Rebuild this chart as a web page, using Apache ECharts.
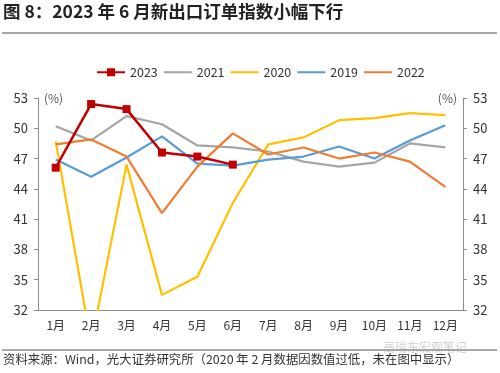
<!DOCTYPE html>
<html><head><meta charset="utf-8">
<script src="https://cdn.jsdelivr.net/npm/echarts@6/dist/echarts.min.js"></script>
<style>html,body{margin:0;padding:0;background:#fff}#c{width:500px;height:373px}</style>
</head><body><div id="c"></div>
<script>
const months = ['1月','2月','3月','4月','5月','6月','7月','8月','9月','10月','11月','12月'];
const yTicks = [32,35,38,41,44,47,50,53];
const s2023 = [46.1,52.4,51.9,47.6,47.2,46.4];
const s2021 = [50.2,48.8,51.2,50.4,48.3,48.1,47.7,46.7,46.2,46.6,48.5,48.1];
const s2020 = [48.7,28.7,46.4,33.5,35.3,42.6,48.4,49.1,50.8,51.0,51.5,51.3];
const s2019 = [46.9,45.2,47.1,49.2,46.5,46.3,46.9,47.2,48.2,47.0,48.8,50.3];
const s2022 = [48.4,48.9,47.2,41.6,46.2,49.5,47.4,48.1,47.0,47.6,46.7,44.2];

const FONT = '"Noto Sans CJK SC", "Noto Sans", sans-serif';
const LINE_ICON = 'path://M0,0H0.01V10H0Z M0,3.9H28V6.1H0Z';
const chart = echarts.init(document.getElementById('c'), null, {renderer:'canvas'});
const axisCommon = (pos) => ({
  type:'value', position:pos, min:yTicks[0], max:yTicks[yTicks.length-1], interval:3,
  name:'(%)', nameLocation:'end', nameGap:0,
  nameTextStyle:{color:'#555', fontSize:12, fontFamily:FONT, align: pos==='left'?'left':'right', verticalAlign:'middle', padding: pos==='left'?[0,0,0,6]:[0,6,0,0]},
  axisLine:{show:true, lineStyle:{color:'#8c8c8c', width:1}},
  axisTick:{show:true, length:4, lineStyle:{color:'#8c8c8c'}},
  axisLabel:{color:'#333', fontSize:13, fontFamily:FONT, margin:10},
  splitLine:{show:false}
});
const lineS = (name, data, color, extra) => Object.assign({
  name, type:'line', data, yAxisIndex:0, showSymbol:false, symbol:'none',
  lineStyle:{color, width:2.2}, itemStyle:{color}, clip:true, z:2, animation:false
}, extra||{});

chart.setOption({
  animation:false,
  textStyle:{fontFamily:FONT},
  grid:{left:38, right:37, top:98, bottom:63, containLabel:false},
  legend:{
    left:96, top:66, padding:0, itemWidth:28, itemHeight:10, itemGap:6,
    textStyle:{color:'#333', fontSize:12.5, fontFamily:FONT},
    data:[
      {name:'2023'},
      {name:'2021', icon:LINE_ICON},
      {name:'2020', icon:LINE_ICON},
      {name:'2019', icon:LINE_ICON},
      {name:'2022', icon:LINE_ICON}
    ]
  },
  xAxis:{
    type:'category', data:months, boundaryGap:true,
    axisLine:{show:true, lineStyle:{color:'#8c8c8c', width:1}},
    axisTick:{show:false},
    axisLabel:{color:'#333', fontSize:12, fontFamily:FONT, margin:9, interval:0}
  },
  yAxis:[axisCommon('left'), axisCommon('right')],
  series:[
    lineS('2021', s2021, '#A5A5A5'),
    lineS('2020', s2020, '#FFC000'),
    lineS('2019', s2019, '#5B9BD5'),
    lineS('2022', s2022, '#ED7D31'),
    lineS('2023', s2023, '#C00000', {showSymbol:true, symbol:'rect', symbolSize:8, z:5, lineStyle:{color:'#C00000', width:2.5}})
  ],
  graphic:[
    {type:'text', left:3, top:3, style:{text:'图 8：2023 年 6 月新出口订单指数小幅下行', font:'bold 17.5px '+FONT, fill:'#222'}},
    {type:'line', shape:{x1:2, y1:33, x2:497, y2:33}, style:{stroke:'#8a8a8a', lineWidth:1.5}},
    {type:'line', shape:{x1:2, y1:350, x2:497, y2:350}, style:{stroke:'#555', lineWidth:1}},
    {type:'text', left:3, top:353, style:{text:'资料来源：Wind，光大证券研究所（2020 年 2 月数据因数值过低，未在图中显示）', font:'12.4px '+FONT, fill:'#333'}},
    {type:'text', left:383, top:341, style:{text:'高瑞东宏观笔记', font:'12px '+FONT, fill:'rgba(150,150,150,0.45)'}}
  ]
});
</script></body></html>
